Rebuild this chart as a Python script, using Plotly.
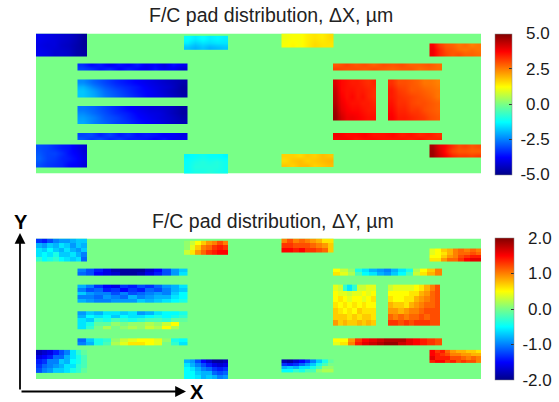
import plotly.graph_objects as go

# ---- Pad extents, in axis units -------------------------------------------------
pad_names = ["tl", "tc", "tr", "r1", "bar1", "bar2", "bar3", "bar4", "bl", "bc", "br", "r2",
             "rbar1", "blockL", "blockR", "rbar2"]
pad_x0 = [0, 148, 245.5, 393.5, 41.5, 41.5, 41.5, 41.5, 0, 148, 245.5, 393.5, 297, 297, 352, 297]
pad_x1 = [51, 192, 297, 445, 151, 151, 151, 151, 51, 192, 297, 445, 406, 340, 404, 406]
pad_y0 = [0, 2.3, 0, 10, 30, 46, 72.5, 99.5, 111, 120.5, 120.5, 111, 30, 46, 46, 99.5]
pad_y1 = [22.5, 16.5, 13.5, 22.5, 36.5, 64, 90.5, 106.5, 133.5, 140, 133.5, 124, 36.5, 86.5, 86.5, 106.5]
x_range = [0, 445]
y_range = [140, 0]

# ---- ΔX values per pad (rows top to bottom, µm) ---------------------------------
dx = {
 "tl": [[-3.9,-4.0,-4.1,-4.2,-4.3,-4.5,-4.8],[-4.0,-4.1,-4.1,-4.3,-4.4,-4.6,-4.8],[-3.9,-4.0,-4.2,-4.2,-4.3,-4.6,-4.7]],
 "tc": [[-1.2,-1.4,-1.2,-1.4,-1.3,-1.4],[-1.4,-1.7,-1.5,-1.6,-1.5,-1.5],[-1.8,-2.0,-1.8,-2.0,-1.9,-1.8]],
 "tr": [[1.1,1.2,1.2,1.4,1.5,1.4,1.6],[1.2,1.3,1.2,1.4,1.6,1.5,1.5]],
 "r1": [[3.8,3.2,2.9,2.8,2.6,2.7,2.5,2.6],[3.9,3.4,3.0,2.9,2.7,2.6,2.7,2.6],[3.9,3.4,3.1,2.9,3.0,2.8,2.8,2.7]],
 "bar1": [[-3.3,-3.7,-3.5,-3.9,-3.6,-3.8,-3.5,-3.9,-3.7,-4.1,-3.6,-3.9],[-3.1,-3.3,-3.6,-3.4,-3.8,-3.5,-3.7,-3.9,-3.6,-3.9,-3.8,-4.2]],
 "bar2": [[-2.4,-2.8,-3.1,-3.4,-3.6,-3.8,-4.0,-4.2,-4.4,-4.6],[-2.0,-2.5,-2.9,-3.2,-3.4,-3.6,-3.9,-4.1,-4.3,-4.7],[-1.8,-2.2,-2.7,-3.0,-3.3,-3.6,-3.8,-4.1,-4.4,-4.7],[-1.8,-2.1,-2.6,-2.9,-3.2,-3.5,-3.8,-4.0,-4.3,-4.6]],
 "bar3": [[-2.6,-2.8,-3.1,-3.4,-3.7,-3.9,-4.1,-4.2,-4.4,-4.7],[-2.4,-2.7,-3.0,-3.3,-3.5,-3.8,-4.0,-4.1,-4.4,-4.7],[-2.2,-2.5,-2.9,-3.1,-3.4,-3.7,-3.9,-4.1,-4.3,-4.6],[-2.1,-2.5,-2.8,-3.1,-3.3,-3.6,-3.8,-4.0,-4.3,-4.5]],
 "bar4": [[-3.1,-3.0,-3.4,-3.1,-3.5,-3.3,-3.6,-3.5,-3.6,-3.8,-3.8,-4.0],[-2.9,-3.2,-3.0,-3.4,-3.2,-3.5,-3.5,-3.6,-3.8,-3.6,-3.9,-3.9]],
 "bl": [[-3.0,-3.1,-3.3,-3.5,-3.6,-3.9,-4.2],[-2.9,-3.1,-3.1,-3.3,-3.6,-3.8,-4.1],[-2.8,-3.1,-3.2,-3.4,-3.5,-3.7,-4.0],[-3.0,-3.2,-3.3,-3.4,-3.7,-3.8,-4.1]],
 "bc": [[-1.3,-1.2,-1.1,-1.2,-1.2,-1.3],[-1.2,-1.0,-0.9,-1.0,-0.9,-1.1],[-1.2,-0.9,-0.9,-0.9,-0.9,-1.1],[-1.2,-1.0,-1.0,-0.9,-1.0,-1.1]],
 "br": [[1.7,1.7,1.6,1.8,1.7,1.9,1.8],[1.6,1.8,1.9,1.7,1.8,1.9,2.0],[1.8,1.7,1.9,1.9,1.7,1.8,1.9]],
 "r2": [[4.6,4.0,3.7,3.3,3.0,3.1,2.9,3.0],[4.7,4.1,3.6,3.1,2.9,2.9,2.8,2.8],[4.7,4.2,3.8,3.4,3.2,3.2,3.1,3.2]],
 "rbar1": [[2.9,3.1,2.9,3.0,2.8,3.0,2.9,3.0,2.8,2.8,2.9,2.7],[3.1,3.0,3.0,2.9,3.0,2.9,2.8,2.9,2.9,2.7,2.8,2.7]],
 "blockL": [[4.1,3.7,3.6,3.5,3.5,3.4,3.3,3.4],[4.3,3.7,3.6,3.6,3.5,3.5,3.4,3.3],[4.4,3.8,3.6,3.7,3.5,3.6,3.4,3.3],[4.5,3.9,3.7,3.6,3.6,3.5,3.5,3.4],[4.7,4.0,3.8,3.7,3.7,3.6,3.5,3.5],[4.8,4.2,3.9,3.9,3.8,3.7,3.6,3.6]],
 "blockR": [[3.3,3.0,3.0,2.9,2.8,2.6,2.6,2.5],[3.5,3.2,3.1,2.9,2.9,2.8,2.7,2.6],[3.5,3.3,3.2,3.1,3.0,2.9,2.8,2.6],[3.6,3.3,3.3,3.1,3.0,3.0,2.9,2.8],[3.7,3.4,3.4,3.2,3.2,3.0,2.9,2.8],[3.8,3.5,3.5,3.4,3.3,3.2,3.0,2.9]],
 "rbar2": [[3.9,3.7,3.7,3.8,3.6,3.6,3.7,3.5,3.6,3.4,3.5,3.3],[3.8,3.8,3.6,3.7,3.7,3.6,3.6,3.6,3.5,3.6,3.4,3.4]],
}

# ---- ΔY values per pad (rows top to bottom, µm) ---------------------------------
dy = {
 "tl": [[-1.3,-1.4,-1.2,-1.0,-0.9,-0.9,-0.8,-0.7,-0.7],[-0.8,-0.9,-0.7,-0.8,-0.6,-0.7,-0.9,-0.7,-0.8],[-0.6,-0.7,-0.5,-0.7,-0.8,-0.6,-0.8,-0.9,-0.7],[-0.6,-0.5,-0.6,-0.4,-0.7,-0.7,-0.6,-0.8,-1.0],[-0.3,-0.5,-0.4,-0.3,-0.5,-0.6,-0.7,-0.6,-1.1]],
 "tc": [[0.1,0.3,0.5,0.7,0.9,1.0,1.2,1.0],[0.1,0.4,0.7,1.0,1.1,1.3,1.4,1.3],[0.3,0.6,0.9,1.1,1.3,1.4,1.5,1.5]],
 "tr": [[1.0,1.2,1.0,1.1,1.0,0.9,0.8,0.6,0.6],[1.3,1.3,1.2,1.2,1.2,1.1,1.0,0.9,0.7],[1.5,1.5,1.4,1.5,1.3,1.3,1.2,1.1,0.7]],
 "r1": [[0.4,0.5,0.7,0.8,1.0,1.1,1.0,1.1,1.0],[0.4,0.5,0.6,0.8,1.0,1.1,1.1,1.2,1.1],[0.5,0.5,0.7,0.9,1.0,1.2,1.3,1.4,1.4],[0.6,0.6,0.9,1.1,1.1,1.3,1.5,1.6,1.6]],
 "bar1": [[-1.0,-1.2,-1.4,-1.6,-1.8,-1.9,-1.9,-1.9,-1.7,-1.5,-1.2,-0.9,-0.7],[-1.1,-1.2,-1.5,-1.6,-1.7,-1.9,-1.9,-1.8,-1.6,-1.4,-1.2,-0.9,-0.6]],
 "bar2": [[-0.8,-1.0,-1.3,-1.5,-1.6,-1.3,-1.4,-1.2,-1.3,-1.1,-0.9,-0.8,-0.6],[-1.0,-1.2,-1.1,-1.4,-1.3,-1.5,-1.3,-1.4,-1.1,-1.2,-1.0,-0.8,-0.7],[-0.7,-0.9,-1.0,-1.0,-1.2,-1.0,-1.2,-1.1,-1.0,-0.9,-1.0,-0.7,-0.5],[-1.0,-1.0,-1.1,-0.9,-1.0,-1.1,-0.8,-1.0,-0.9,-0.8,-0.8,-0.6,-0.5],[-0.8,-0.9,-1.0,-1.0,-0.9,-0.9,-0.9,-0.7,-0.8,-0.7,-0.6,-0.5,-0.4]],
 "bar3": [[-0.9,-0.7,-0.8,-0.6,-0.6,-0.7,-0.6,-0.9,-0.8,-0.6,-0.5,-0.5,-0.4],[-0.8,-0.5,-0.6,-0.5,-0.7,-0.5,-0.6,-0.6,-0.5,-0.4,-0.5,-0.4,-0.3],[-0.6,-0.7,-0.3,-0.4,-0.2,-0.3,-0.4,-0.3,-0.2,-0.2,-0.3,-0.1,-0.1],[-0.6,-0.4,-0.1,-0.1,0.1,0.0,0.1,0.1,0.2,0.1,0.3,0.5,0.0],[-0.6,-0.3,0.0,0.2,0.0,0.1,0.2,0.1,0.3,0.2,0.5,0.2,0.0]],
 "bar4": [[-1.1,-0.7,-0.4,-0.3,0.1,0.3,0.4,0.5,0.5,0.4,0.1,-0.4,-0.5],[-1.0,-0.8,-0.4,-0.2,0.2,0.4,0.6,0.6,0.5,0.4,0.0,-0.3,-0.6]],
 "bl": [[-1.8,-1.7,-1.6,-1.4,-1.2,-1.0,-0.6,-0.3,-0.1],[-1.6,-1.5,-1.4,-1.1,-1.1,-0.8,-0.6,-0.4,-0.2],[-1.4,-1.3,-1.0,-1.0,-0.7,-0.8,-0.5,-0.4,-0.2],[-1.3,-1.1,-1.0,-0.9,-0.8,-0.6,-0.6,-0.3,-0.2],[-1.2,-1.0,-0.9,-0.7,-0.7,-0.6,-0.4,-0.3,-0.1]],
 "bc": [[-0.8,-0.9,-1.2,-1.5,-1.7,-1.9,-1.9,-1.8],[-0.6,-0.8,-1.0,-1.2,-1.4,-1.6,-1.7,-1.6],[-0.5,-0.6,-0.8,-1.0,-1.1,-1.3,-1.4,-1.3],[-0.5,-0.5,-0.7,-0.8,-0.8,-1.1,-1.2,-1.1],[-0.5,-0.5,-0.6,-0.8,-0.7,-0.8,-1.0,-0.9]],
 "br": [[-1.8,-1.9,-1.7,-1.5,-1.3,-1.0,-0.7,-0.4,-0.1],[-1.3,-1.4,-1.3,-1.1,-0.9,-0.7,-0.4,-0.2,0.0],[-0.8,-0.7,-0.8,-0.6,-0.6,-0.4,-0.2,0.1,0.1],[-0.5,-0.5,-0.3,-0.4,-0.2,-0.2,0.1,0.2,0.2]],
 "r2": [[1.5,1.3,1.4,1.1,0.9,0.8,0.8,0.7,0.7,0.6],[1.5,1.4,1.3,1.2,1.0,1.0,0.9,0.9,0.8,0.8],[1.6,1.4,1.4,1.4,1.2,1.2,1.1,1.0,1.1,1.0],[1.4,1.5,1.5,1.3,1.4,1.2,1.3,1.2,1.2,1.0]],
 "rbar1": [[0.5,0.3,0.1,-0.4,-0.6,-0.8,-0.9,-1.0,-0.8,-0.6,-0.4,0.2,0.5,0.7,1.0],[0.6,0.4,0.2,-0.2,-0.5,-0.6,-0.8,-0.9,-0.7,-0.5,-0.2,0.3,0.6,0.8,1.0]],
 "blockL": [[0.4,0.3,-0.3,-0.6,-0.3,0.3,0.3,0.4,0.4],[0.5,0.4,0.4,0.3,0.4,0.4,0.5,0.4,0.5],[0.5,0.6,0.5,0.4,0.5,0.5,0.4,0.5,0.6],[0.6,0.5,0.6,0.5,0.6,0.5,0.6,0.5,0.5],[0.7,0.6,0.5,0.6,0.5,0.7,0.6,0.6,0.6],[0.7,0.7,0.7,0.6,0.7,0.6,0.7,0.7,0.6],[0.9,0.7,0.8,0.7,0.7,0.8,0.7,0.8,0.7]],
 "blockR": [[0.3,0.4,0.4,0.4,0.4,0.5,0.6,0.8,1.0,1.2],[0.5,0.5,0.5,0.5,0.6,0.6,0.8,0.9,1.1,1.2],[0.6,0.5,0.5,0.6,0.6,0.8,0.9,1.0,1.1,1.2],[0.8,0.7,0.7,0.6,0.8,0.9,1.0,1.1,1.1,1.2],[0.9,0.9,0.8,0.9,1.0,1.0,1.1,1.2,1.2,1.2],[1.1,1.0,1.1,1.0,1.1,1.1,1.2,1.1,1.2,1.2],[1.3,1.3,1.2,1.3,1.2,1.3,1.3,1.3,1.2,1.2]],
 "rbar2": [[0.5,0.5,0.9,1.3,1.5,1.6,1.7,1.8,1.8,1.8,1.6,1.5,1.4,1.3,1.2],[0.4,0.6,1.0,1.4,1.6,1.7,1.8,1.9,1.9,1.7,1.6,1.5,1.4,1.3,1.2]],
}

titles = ["F/C pad distribution, ΔX, µm", "F/C pad distribution, ΔY, µm"]
dx_ticks = [5.0, 2.5, 0.0, -2.5, -5.0]
dy_ticks = [2.0, 1.0, 0.0, -1.0, -2.0]
PAD = "\u2005"
SIGN = "\u2004"
dx_ticktext = [PAD + SIGN + "5.0", PAD + SIGN + "2.5", PAD + SIGN + "0.0", PAD + "-2.5", PAD + "-5.0"]
dy_ticktext = [PAD + SIGN + "2.0", PAD + SIGN + "1.0", PAD + SIGN + "0.0", PAD + "-1.0", PAD + "-2.0"]

matlab_jet = [[0, "rgb(0,0,135)"], [0.125, "rgb(0,0,255)"], [0.375, "rgb(0,255,255)"],
              [0.5, "rgb(120,255,135)"], [0.625, "rgb(255,255,0)"], [0.875, "rgb(255,0,0)"],
              [1, "rgb(128,0,0)"]]

W, H = 559, 402
fig = go.Figure()


def add_panel(values, xaxis, yaxis, coloraxis, smooth):
    fig.add_trace(go.Heatmap(z=[[0]], x0=x_range[1] / 2, dx=x_range[1],
                             y0=abs(y_range[0]) / 2, dy=abs(y_range[0]),
                             xaxis=xaxis, yaxis=yaxis, coloraxis=coloraxis))
    for i, name in enumerate(pad_names):
        z = values[name]
        w = (pad_x1[i] - pad_x0[i]) / len(z[0])
        h = (pad_y1[i] - pad_y0[i]) / len(z)
        fig.add_trace(go.Heatmap(z=z, x0=pad_x0[i] + w / 2, dx=w, y0=pad_y0[i] + h / 2, dy=h,
                                 zsmooth=smooth, xaxis=xaxis, yaxis=yaxis, coloraxis=coloraxis))


add_panel(dx, "x", "y", "coloraxis", "best")
add_panel(dy, "x2", "y2", "coloraxis2", False)

dom_x = [36 / W, 481 / W]
dom1 = [1 - 173.5 / H, 1 - 33.5 / H]
dom2 = [1 - 379 / H, 1 - 238.5 / H]
tick_font = dict(family="Liberation Sans, Arial, sans-serif", size=17, color="#1a1a1a")


def cbar(vals, text, top, bottom, thick):
    return dict(x=495 / W, xanchor="left", xpad=0, ypad=0, thickness=thick, thicknessmode="pixels",
                y=1 - top / H, yanchor="top", len=(bottom - top) / H, lenmode="fraction",
                tickmode="array", tickvals=vals, ticktext=text, ticks="inside", ticklen=3,
                tickcolor="#333", tickfont=tick_font, outlinewidth=0.5, outlinecolor="#888")


axis = dict(visible=False, fixedrange=True)
fig.update_layout(
    width=W, height=H, margin=dict(l=0, r=0, t=0, b=0), showlegend=False,
    paper_bgcolor="white", plot_bgcolor="white",
    xaxis=dict(axis, domain=dom_x, range=x_range),
    yaxis=dict(axis, domain=dom1, range=y_range),
    xaxis2=dict(axis, domain=dom_x, range=x_range, anchor="y2"),
    yaxis2=dict(axis, domain=dom2, range=y_range, anchor="x2"),
    coloraxis=dict(cmin=-5, cmax=5, colorscale=matlab_jet,
                   colorbar=cbar(dx_ticks, dx_ticktext, 33.5, 174.5, 17)),
    coloraxis2=dict(cmin=-2, cmax=2, colorscale=matlab_jet,
                    colorbar=cbar(dy_ticks, dy_ticktext, 238, 380, 19)),
)

title_font = dict(family="Liberation Sans, Arial, sans-serif", size=19.5, color="#222")
bold = dict(family="Liberation Sans, Arial, sans-serif", size=20, color="black", weight="bold")
common = dict(xref="paper", yref="paper", showarrow=False, xanchor="center", yanchor="middle")
fig.add_annotation(text=titles[0], x=270.5 / W, y=1 - 15 / H, font=title_font, **common)
fig.add_annotation(text=titles[1], x=273 / W, y=1 - 221 / H, font=title_font, **common)
fig.add_annotation(text="Y", x=21 / W, y=1 - 222 / H, font=bold, **common)
fig.add_annotation(text="X", x=197 / W, y=1 - 392 / H, font=bold, **common)
arrow = dict(xref="paper", yref="paper", axref="pixel", ayref="pixel", showarrow=True, arrowhead=2,
             arrowsize=1.2, arrowwidth=1.8, arrowcolor="black", text="")
fig.add_annotation(x=20 / W, y=1 - 233 / H, ax=0, ay=158, **arrow)
fig.add_annotation(x=186 / W, y=1 - 391.5 / H, ax=-166, ay=0, **arrow)

fig.write_html("out.html", config=dict(displayModeBar=False),
               post_script="document.body.style.margin='0';document.body.style.overflow='hidden';")
